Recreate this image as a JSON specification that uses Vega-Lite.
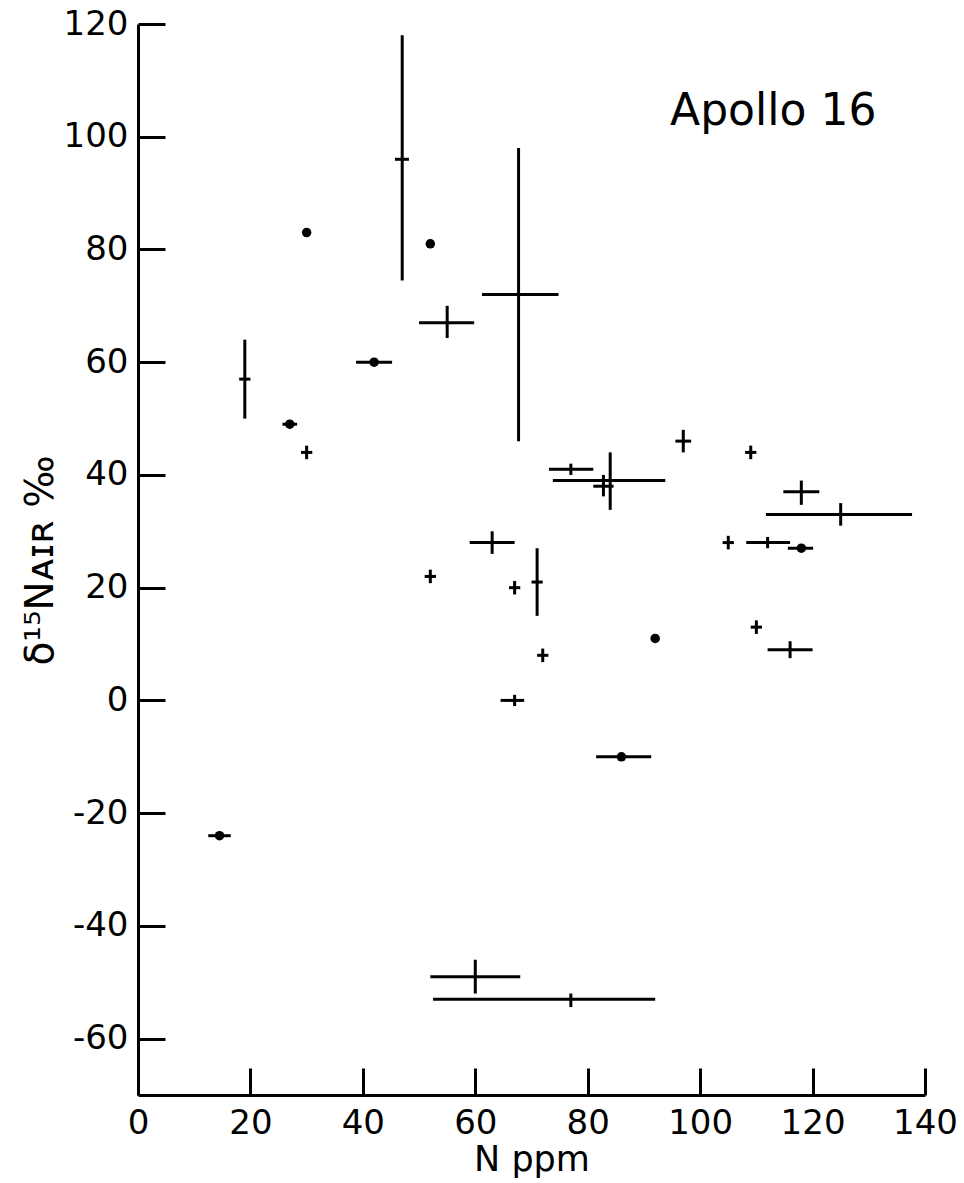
{
  "$schema": "https://vega.github.io/schema/vega-lite/v6.json",
  "width": 787,
  "height": 1071,
  "autosize": "none",
  "padding": {"left": 138, "top": 24, "right": 39, "bottom": 88},
  "background": "white",
  "config": {
    "view": {"stroke": null},
    "font": "DejaVu Sans",
    "axis": {
      "grid": false,
      "domainColor": "black", "domainWidth": 3,
      "tickColor": "black", "tickWidth": 3, "tickSize": -27,
      "labelFontSize": 34, "labelColor": "black", "labelFont": "DejaVu Sans",
      "labelFlush": false, "labelOverlap": false,
      "titleFont": "DejaVu Sans", "titleFontWeight": "normal", "titleColor": "black",
      "titleBaseline": "alphabetic"
    },
    "axisX": {"labelPadding": 38, "titleFontSize": 35, "titleX": 393.5, "titleY": 75},
    "axisY": {"labelPadding": 37, "titleFontSize": 39, "titleAngle": -90, "titleX": -86, "titleY": 536}
  },
  "data": {"values": [
    {"n": 14.5, "d": -24, "nlo": 12.5, "nhi": 16.5, "dlo": -24, "dhi": -24, "dot": true},
    {"n": 19, "d": 57, "nlo": 18, "nhi": 20, "dlo": 50, "dhi": 64, "dot": false},
    {"n": 27, "d": 49, "nlo": 25.7, "nhi": 28.3, "dlo": 49, "dhi": 49, "dot": true},
    {"n": 30, "d": 83, "nlo": 30, "nhi": 30, "dlo": 83, "dhi": 83, "dot": true},
    {"n": 30, "d": 44, "nlo": 29, "nhi": 31, "dlo": 42.8, "dhi": 45.2, "dot": false},
    {"n": 42, "d": 60, "nlo": 38.8, "nhi": 45.2, "dlo": 60, "dhi": 60, "dot": true},
    {"n": 47, "d": 96, "nlo": 45.7, "nhi": 48.2, "dlo": 74.5, "dhi": 118, "dot": false},
    {"n": 52, "d": 81, "nlo": 52, "nhi": 52, "dlo": 81, "dhi": 81, "dot": true},
    {"n": 55, "d": 67, "nlo": 50, "nhi": 59.8, "dlo": 64.3, "dhi": 70, "dot": false},
    {"n": 67.7, "d": 72, "nlo": 61.2, "nhi": 74.8, "dlo": 46, "dhi": 98, "dot": false},
    {"n": 52, "d": 22, "nlo": 51, "nhi": 53, "dlo": 20.8, "dhi": 23.2, "dot": false},
    {"n": 63, "d": 28, "nlo": 59, "nhi": 67, "dlo": 26, "dhi": 30, "dot": false},
    {"n": 67, "d": 20, "nlo": 66, "nhi": 68, "dlo": 18.8, "dhi": 21.2, "dot": false},
    {"n": 71, "d": 21, "nlo": 70, "nhi": 72, "dlo": 15, "dhi": 27, "dot": false},
    {"n": 72, "d": 8, "nlo": 71, "nhi": 73, "dlo": 6.8, "dhi": 9.2, "dot": false},
    {"n": 92, "d": 11, "nlo": 92, "nhi": 92, "dlo": 11, "dhi": 11, "dot": true},
    {"n": 67, "d": 0, "nlo": 64.5, "nhi": 68.7, "dlo": -1, "dhi": 1, "dot": false},
    {"n": 110, "d": 13, "nlo": 109, "nhi": 111, "dlo": 11.8, "dhi": 14.2, "dot": false},
    {"n": 116, "d": 9, "nlo": 112, "nhi": 120, "dlo": 7.5, "dhi": 10.5, "dot": false},
    {"n": 86, "d": -10, "nlo": 81.5, "nhi": 91.3, "dlo": -10, "dhi": -10, "dot": true},
    {"n": 60, "d": -49, "nlo": 52, "nhi": 68, "dlo": -52, "dhi": -46, "dot": false},
    {"n": 77, "d": -53, "nlo": 52.5, "nhi": 92, "dlo": -54.4, "dhi": -52, "dot": false},
    {"n": 109, "d": 44, "nlo": 108, "nhi": 110, "dlo": 42.8, "dhi": 45.2, "dot": false},
    {"n": 118, "d": 37, "nlo": 114.8, "nhi": 121.2, "dlo": 34.7, "dhi": 39, "dot": false},
    {"n": 125, "d": 33, "nlo": 111.7, "nhi": 137.7, "dlo": 31, "dhi": 35, "dot": false},
    {"n": 105, "d": 28, "nlo": 104, "nhi": 106, "dlo": 26.8, "dhi": 29.2, "dot": false},
    {"n": 112, "d": 28, "nlo": 108.2, "nhi": 116, "dlo": 27, "dhi": 29, "dot": false},
    {"n": 118, "d": 27, "nlo": 115.6, "nhi": 120.1, "dlo": 27, "dhi": 27, "dot": true},
    {"n": 97, "d": 46, "nlo": 95.6, "nhi": 98.4, "dlo": 44, "dhi": 48, "dot": false},
    {"n": 77, "d": 41, "nlo": 73.1, "nhi": 81, "dlo": 40, "dhi": 42, "dot": false},
    {"n": 84, "d": 39, "nlo": 73.8, "nhi": 93.8, "dlo": 33.8, "dhi": 44, "dot": false},
    {"n": 82.8, "d": 38, "nlo": 81, "nhi": 84.6, "dlo": 36.2, "dhi": 40, "dot": false}
  ]},
  "layer": [
    {
      "transform": [{"filter": "datum.nhi > datum.nlo"}],
      "mark": {"type": "rule", "strokeWidth": 3, "color": "black", "strokeCap": "butt"},
      "encoding": {
        "x": {
          "field": "nlo", "type": "quantitative", "title": "N ppm",
          "scale": {"domain": [0, 140], "nice": false, "zero": false},
          "axis": {"values": [0, 20, 40, 60, 80, 100, 120, 140], "labelExpr": "'' + datum.value"}
        },
        "x2": {"field": "nhi"},
        "y": {
          "field": "d", "type": "quantitative", "title": "δ¹⁵Nᴀɪʀ ‰",
          "scale": {"domain": [-70, 120], "nice": false, "zero": false},
          "axis": {"values": [-60, -40, -20, 0, 20, 40, 60, 80, 100, 120], "labelExpr": "'' + datum.value"}
        }
      }
    },
    {
      "transform": [{"filter": "datum.dhi > datum.dlo"}],
      "mark": {"type": "rule", "strokeWidth": 3, "color": "black", "strokeCap": "butt"},
      "encoding": {
        "x": {"field": "n", "type": "quantitative", "title": "N ppm"},
        "y": {"field": "dlo", "type": "quantitative", "title": "δ¹⁵Nᴀɪʀ ‰"},
        "y2": {"field": "dhi"}
      }
    },
    {
      "transform": [{"filter": "datum.dot"}],
      "mark": {"type": "point", "shape": "circle", "filled": true, "color": "black", "size": 90, "opacity": 1},
      "encoding": {
        "x": {"field": "n", "type": "quantitative", "title": "N ppm"},
        "y": {"field": "d", "type": "quantitative", "title": "δ¹⁵Nᴀɪʀ ‰"}
      }
    },
    {
      "data": {"values": [{"label": "Apollo 16", "n": 113, "d": 102}]},
      "mark": {"type": "text", "font": "DejaVu Sans", "fontSize": 44, "align": "center", "baseline": "alphabetic", "color": "black"},
      "encoding": {
        "x": {"field": "n", "type": "quantitative", "title": "N ppm"},
        "y": {"field": "d", "type": "quantitative", "title": "δ¹⁵Nᴀɪʀ ‰"},
        "text": {"field": "label"}
      }
    }
  ]
}
